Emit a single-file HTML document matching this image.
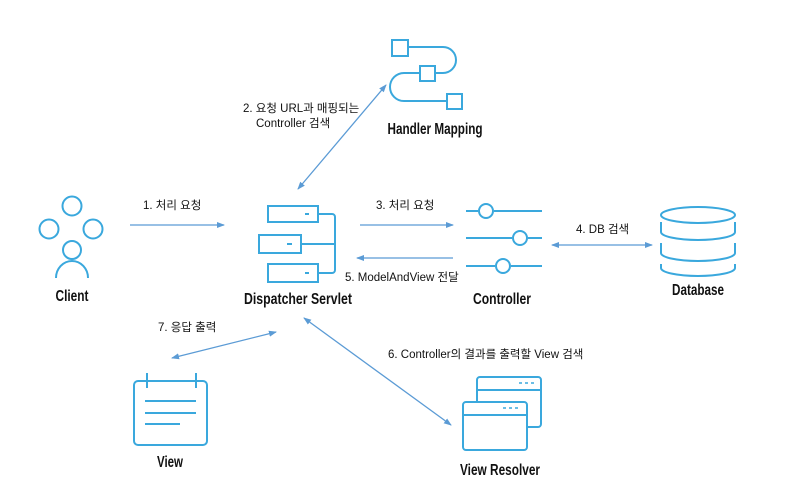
<!DOCTYPE html>
<html><head><meta charset="utf-8"><style>
html,body{margin:0;padding:0;background:#fff}
svg{display:block}
.t{font-family:"Liberation Sans","Noto Sans CJK KR",sans-serif;font-size:11.5px;fill:#111}
.b{font-family:"Liberation Sans",sans-serif;font-weight:bold;font-size:16px;fill:#111;text-anchor:middle}
.i{fill:none;stroke:#3aa8dd;stroke-width:2}
.a{stroke:#5b9bd5;stroke-width:1.3;fill:none}
</style></head><body>
<svg width="792" height="498" viewBox="0 0 792 498">
<defs>
<marker id="m" markerWidth="8" markerHeight="8" refX="7" refY="4" orient="auto-start-reverse" markerUnits="userSpaceOnUse"><path d="M0,1 L8,4 L0,7 z" fill="#5b9bd5"/></marker>
</defs>
<!-- Client -->
<circle class="i" cx="72" cy="206" r="9.5"/>
<circle class="i" cx="49" cy="229" r="9.5"/>
<circle class="i" cx="93" cy="229" r="9.5"/>
<circle class="i" cx="72" cy="250" r="9"/>
<path class="i" d="M56,278 A16,17 0 0 1 88,278"/>
<text class="b" x="72" y="301" textLength="33" lengthAdjust="spacingAndGlyphs">Client</text>
<!-- arrow 1 -->
<line class="a" x1="130" y1="225" x2="224" y2="225" marker-end="url(#m)"/>
<text class="t" x="143" y="209">1. 처리 요청</text>
<!-- Dispatcher -->
<rect class="i" x="268" y="206" width="50" height="16"/>
<rect class="i" x="259" y="235" width="42" height="18"/>
<rect class="i" x="268" y="264" width="50" height="18"/>
<path class="i" d="M305,214h4M287,244h5M305,273h4"/>
<path class="i" d="M318,214h14a3,3 0 0 1 3,3v53a3,3 0 0 1 -3,3h-14M301,244h34"/>
<text class="b" x="298" y="304" textLength="108" lengthAdjust="spacingAndGlyphs">Dispatcher Servlet</text>
<!-- arrow 2 -->
<line class="a" x1="298" y1="189" x2="386" y2="85" marker-start="url(#m)" marker-end="url(#m)"/>
<text class="t" x="243" y="112">2. 요청 URL과 매핑되는</text>
<text class="t" x="256" y="127">Controller 검색</text>
<!-- Handler Mapping -->
<rect class="i" x="392" y="40" width="16" height="16"/>
<rect class="i" x="420" y="66" width="15" height="15"/>
<rect class="i" x="447" y="94" width="15" height="15"/>
<path class="i" d="M408,47h35a13,13 0 0 1 0,26h-8M420,73h-16a14,14 0 0 0 0,28h43"/>
<text class="b" x="435" y="134" textLength="95" lengthAdjust="spacingAndGlyphs">Handler Mapping</text>
<!-- arrow 3, 5 -->
<line class="a" x1="360" y1="225" x2="453" y2="225" marker-end="url(#m)"/>
<text class="t" x="376" y="209">3. 처리 요청</text>
<line class="a" x1="453" y1="258" x2="357" y2="258" marker-end="url(#m)"/>
<text class="t" x="345" y="281">5. ModelAndView 전달</text>
<!-- Controller -->
<path class="i" d="M466,211h12M494,211h48M466,238h46M528,238h14M466,266h29M511,266h31"/>
<circle class="i" cx="486" cy="211" r="7"/>
<circle class="i" cx="520" cy="238" r="7"/>
<circle class="i" cx="503" cy="266" r="7"/>
<text class="b" x="502" y="304" textLength="58" lengthAdjust="spacingAndGlyphs">Controller</text>
<!-- arrow 4 -->
<line class="a" x1="552" y1="245" x2="652" y2="245" marker-start="url(#m)" marker-end="url(#m)"/>
<text class="t" x="576" y="233">4. DB 검색</text>
<!-- Database -->
<ellipse class="i" cx="698" cy="215" rx="37" ry="8"/>
<path class="i" d="M661,222v10a37,8 0 0 0 74,0v-10M661,243v10a37,8 0 0 0 74,0v-10M661,264v4a37,8 0 0 0 74,0v-4"/>
<text class="b" x="698" y="295" textLength="52" lengthAdjust="spacingAndGlyphs">Database</text>
<!-- arrow 7 -->
<line class="a" x1="276" y1="332" x2="172" y2="358" marker-start="url(#m)" marker-end="url(#m)"/>
<text class="t" x="158" y="331">7. 응답 출력</text>
<!-- View -->
<rect class="i" x="134" y="381" width="73" height="64" rx="4"/>
<path class="i" d="M147,373v15M196,373v15M145,401h51M145,413h51M145,424h35"/>
<text class="b" x="170" y="467" textLength="26" lengthAdjust="spacingAndGlyphs">View</text>
<!-- arrow 6 -->
<line class="a" x1="304" y1="318" x2="451" y2="425" marker-start="url(#m)" marker-end="url(#m)"/>
<text class="t" x="388" y="358">6. Controller의 결과를 출력할 View 검색</text>
<!-- View Resolver -->
<path class="i" d="M527,427h11a3,3 0 0 0 3,-3v-44a3,3 0 0 0 -3,-3h-58a3,3 0 0 0 -3,3v22M477,390h64"/>
<path d="M519,383h3M525,383h3M531,383h3" stroke="#3aa8dd" stroke-width="1.6"/>
<rect class="i" x="463" y="402" width="64" height="48" rx="3"/>
<path class="i" d="M463,415h64"/>
<path d="M503,408h3M509,408h3M515,408h3" stroke="#3aa8dd" stroke-width="1.6"/>
<text class="b" x="500" y="475" textLength="80" lengthAdjust="spacingAndGlyphs">View Resolver</text>
</svg>
</body></html>
